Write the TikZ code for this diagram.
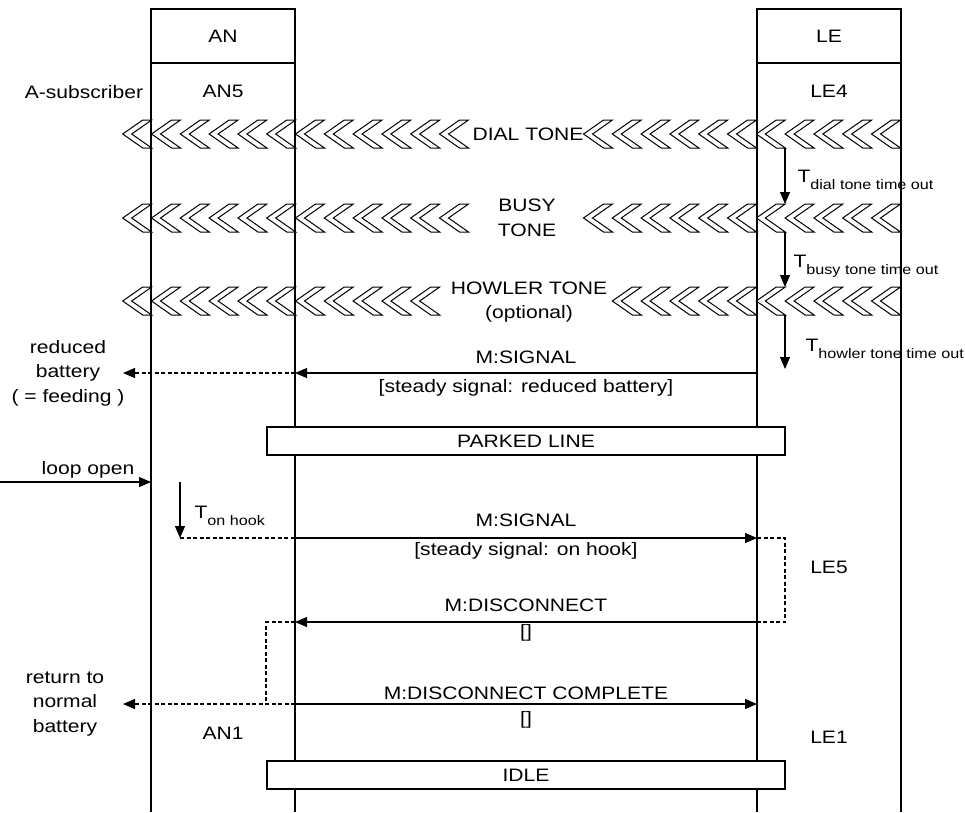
\documentclass[tikz,border=0pt]{standalone}
\usepackage{fontspec}
\setmainfont{Liberation Sans}[FakeStretch=1.17]
\usetikzlibrary{arrows.meta}
\newcommand\lblfnt{\fontsize{18}{24.5}\selectfont}
\newcommand\subfnt{\fontsize{13.8}{15}\selectfont}
\tikzset{
  >={Triangle[length=12pt,width=10pt]},
  font=\lblfnt,
  lifeline/.style={draw=black},
  hdrbox/.style={draw, fill=white, minimum width=144pt, minimum height=54pt, inner sep=0pt},
  statebar/.style={draw, fill=white, minimum width=518pt, minimum height=28pt, inner sep=0pt},
  chev/.style={draw, fill=white, line width=1pt, line join=miter},
  msg/.style={->},
  dmsg/.style={->, dash pattern=on 4pt off 2.5pt},
  dline/.style={dash pattern=on 4pt off 2.5pt},
  tmr/.style={->},
  txt/.style={align=center, inner sep=0pt},
  lbl/.style={inner sep=2pt},
  tlab/.style={anchor=base west, inner sep=0pt}
}

\begin{document}
\begin{tikzpicture}[x=1pt, y=-1pt, line width=1.1pt]
  \useasboundingbox (0,0) rectangle (965,812);

  % lifelines
  \coordinate (anL-t) at (151,9);  \coordinate (anL-b) at (151,812);
  \coordinate (anR-t) at (295,9);  \coordinate (anR-b) at (295,812);
  \coordinate (leL-t) at (757,9);  \coordinate (leL-b) at (757,812);
  \coordinate (leR-t) at (901,9);  \coordinate (leR-b) at (901,812);
  \draw[lifeline] (anL-t) -- (anL-b);
  \draw[lifeline] (anR-t) -- (anR-b);
  \draw[lifeline] (leL-t) -- (leL-b);
  \draw[lifeline] (leR-t) -- (leR-b);

  \node[hdrbox] (an) at (223,36) {AN};
  \node[hdrbox] (le) at (829,36) {LE};
  \node (an5) at (223,91) {AN5};
  \node (le4) at (829,91) {LE4};
  \node (asub) at (84,92) {A-subscriber};

  % tone bands
  \foreach \c/\a/\b in {134/0/11, 134/16/26, 218/0/11, 218/16/26, 301/0/10, 301/17/26}
    \foreach \k in {\a,...,\b}
      \draw[chev] ({151.7+28.8*\k-29},\c) -- ++(20,-14) -- ++(9,0) -- ++(-20,14)
        -- ++(20,14) -- ++(-9,0) -- cycle;

  \node[txt] (dial) at (528,134) {DIAL TONE};
  \node[txt] (busy) at (527,218) {BUSY\\TONE};
  \node[txt] (howler) at (529,302) {HOWLER TONE\\(optional)};

  % LE timers
  \coordinate (t1s) at (785,148); \coordinate (t1e) at (785,204);
  \coordinate (t2s) at (785,232); \coordinate (t2e) at (785,287);
  \coordinate (t3s) at (785,315); \coordinate (t3e) at (785,369);
  \draw[tmr] (t1s) -- (t1e);
  \draw[tmr] (t2s) -- (t2e);
  \draw[tmr] (t3s) -- (t3e);
  \node[tlab] (tdial) at (797,182) {T\raisebox{-7pt}{\subfnt dial tone time out}};
  \node[tlab] (tbusy) at (793,267) {T\raisebox{-7pt}{\subfnt busy tone time out}};
  \node[tlab] (thowl) at (805,351) {T\raisebox{-7pt}{\subfnt howler tone time out}};

  % reduced battery
  \coordinate (s1le) at (757,373); \coordinate (s1an) at (295,373); \coordinate (s1end) at (123,373);
  \draw[msg] (s1le) -- node[lbl, above=7pt] {M:SIGNAL}
    node[lbl, below=4pt] {[steady signal: reduced battery]} (s1an);
  \draw[dmsg] (s1an) -- (s1end);
  \node[txt] (redbat) at (68,373) {reduced\\battery\\( = feeding )};

  \node[statebar] (parked) at (526,441) {PARKED LINE};

  % on hook
  \coordinate (lp0) at (0,482); \coordinate (lp1) at (151,482);
  \draw[msg] (lp0) -- (lp1);
  \node (loop) at (88,470) {loop open};
  \coordinate (oh0) at (180,482); \coordinate (oh1) at (180,538);
  \draw[tmr] (oh0) -- (oh1);
  \node[tlab] (tonhook) at (194,518) {T\raisebox{-7pt}{\subfnt on hook}};
  \coordinate (s2an) at (295,538); \coordinate (s2le) at (757,538);
  \draw[dline] (oh1) -- (s2an);
  \draw[msg] (s2an) -- node[lbl, above=9pt] {M:SIGNAL}
    node[lbl, below=2pt] {[steady signal: on hook]} (s2le);

  % disconnect
  \coordinate (d1) at (785,538); \coordinate (d2) at (785,622); \coordinate (dc1) at (757,622);
  \draw[dline] (s2le) -- (d1) -- (d2) -- (dc1);
  \node (le5) at (829,567) {LE5};
  \coordinate (dcan) at (295,622);
  \draw[msg] (dc1) -- node[lbl, above=8pt] {M:DISCONNECT}
    node[lbl, below=0pt] {[]} (dcan);
  \coordinate (d3) at (266,622); \coordinate (d4) at (266,704);
  \draw[dline] (dcan) -- (d3) -- (d4);
  \coordinate (dkan) at (295,704); \coordinate (dkle) at (757,704); \coordinate (rbend) at (123,704);
  \draw[dmsg] (dkan) -- (rbend);
  \draw[msg] (dkan) -- node[lbl, above=2pt] {M:DISCONNECT COMPLETE}
    node[lbl, below=5pt] {[]} (dkle);
  \node[txt] (retbat) at (65,704) {return to\\normal\\battery};

  \node (an1) at (223,733) {AN1};
  \node (le1) at (829,737) {LE1};
  \node[statebar] (idle) at (526,775) {IDLE};
\end{tikzpicture}
\end{document}
